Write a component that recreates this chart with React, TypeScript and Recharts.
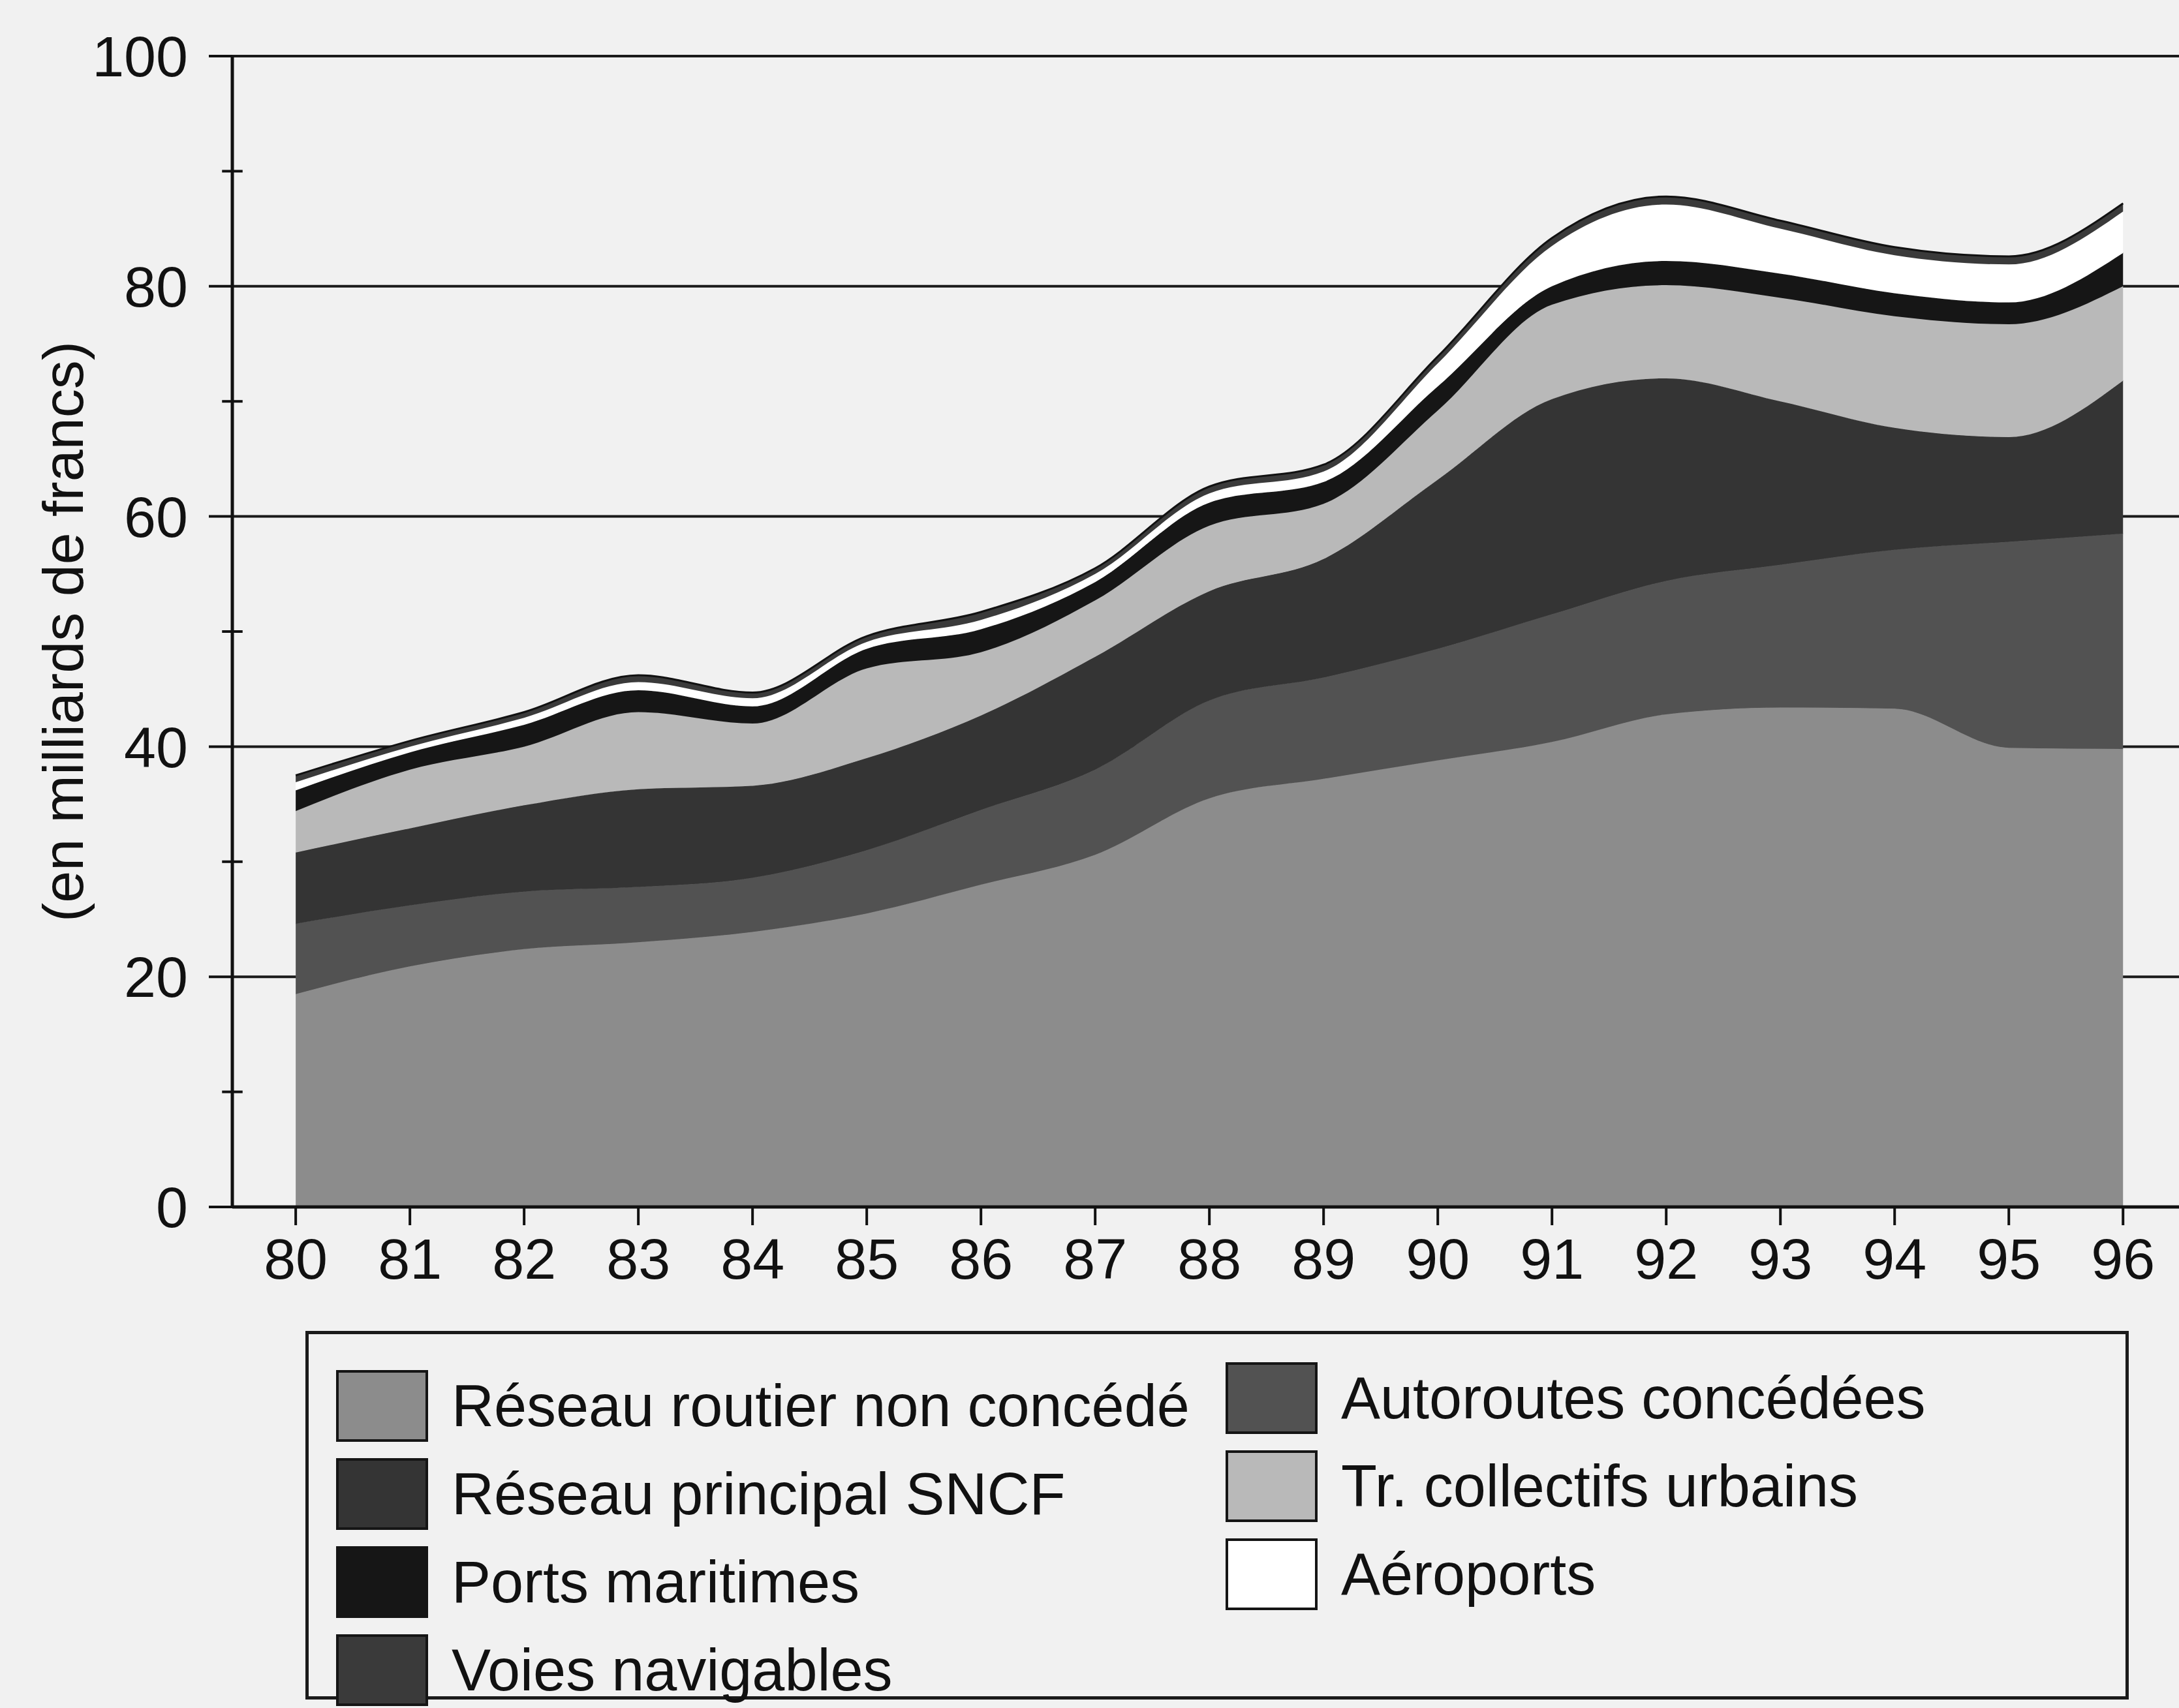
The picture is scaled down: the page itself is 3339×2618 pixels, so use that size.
import { AreaChart, Area, XAxis, YAxis, CartesianGrid, ReferenceLine } from "recharts";

// années 1980 -> 1996 (axe des x)
const years = [80, 81, 82, 83, 84, 85, 86, 87, 88, 89, 90, 91, 92, 93, 94, 95, 96];
const yTicks = [0, 20, 40, 60, 80, 100];
const minorTicks = [10, 30, 50, 70, 90];

// en milliards de francs (couches empilées, du bas vers le haut)
const reseauRoutier = [18.5, 20.9, 22.4, 23.0, 23.9, 25.5, 28.0, 30.6, 35.5, 37.2, 38.8, 40.4, 42.8, 43.4, 43.3, 39.9, 39.8];
const autoroutes = [6.1, 5.3, 5.0, 4.8, 4.7, 5.5, 6.5, 7.4, 8.5, 8.8, 9.7, 11.1, 11.6, 12.4, 13.8, 17.9, 18.7];
const sncf = [6.2, 6.7, 7.5, 8.5, 8.0, 8.0, 8.2, 9.8, 9.5, 10.3, 14.7, 18.7, 17.6, 14.2, 10.6, 9.1, 13.3];
const tcu = [3.6, 5.1, 5.1, 6.7, 5.4, 7.8, 5.5, 4.9, 5.7, 4.8, 6.0, 8.2, 8.1, 9.0, 9.7, 9.8, 8.2];
const ports = [1.8, 1.5, 1.9, 1.9, 1.5, 1.7, 2.0, 1.6, 2.0, 1.9, 2.1, 1.6, 2.1, 2.1, 2.0, 1.9, 2.9];
const aeroports = [0.7, 0.5, 0.6, 0.7, 0.7, 0.6, 0.8, 0.7, 0.8, 0.9, 2.0, 3.5, 4.9, 3.9, 3.3, 3.3, 3.6];
const voies = [0.6, 0.5, 0.5, 0.6, 0.5, 0.5, 0.7, 0.5, 0.6, 0.6, 0.6, 0.7, 0.7, 0.7, 0.7, 0.7, 0.7];

const data = years.map((year, i) => ({
  year,
  routier: reseauRoutier[i],
  autoroutes: autoroutes[i],
  sncf: sncf[i],
  tcu: tcu[i],
  ports: ports[i],
  aeroports: aeroports[i],
  voies: voies[i],
}));

// ordre d'empilement
const series = [
  { key: "routier", name: "Réseau routier non concédé", fill: "#8c8c8c" },
  { key: "autoroutes", name: "Autoroutes concédées", fill: "#525252" },
  { key: "sncf", name: "Réseau principal SNCF", fill: "#343434" },
  { key: "tcu", name: "Tr. collectifs urbains", fill: "#b9b9b9" },
  { key: "ports", name: "Ports maritimes", fill: "#161616" },
  { key: "aeroports", name: "Aéroports", fill: "#ffffff" },
  { key: "voies", name: "Voies navigables", fill: "#3a3a3a" },
];

// ordre de la légende (deux colonnes)
const legendLeft = ["routier", "sncf", "ports", "voies"];
const legendRight = ["autoroutes", "tcu", "aeroports"];

const FONT = "'Liberation Sans', Arial, Helvetica, sans-serif";
const X_MIN = 79.445;
const X_MAX = 96.49;

function YLabel(props: any) {
  const vb = props.viewBox;
  const cx = vb.x + 96;
  const cy = vb.y + vb.height / 2;
  return (
    <text
      x={cx}
      y={cy}
      transform={`rotate(-90, ${cx}, ${cy})`}
      textAnchor="middle"
      dominantBaseline="central"
      fontSize={88}
      fill="#111"
      fontFamily={FONT}
    >
      (en milliards de francs)
    </text>
  );
}

function LegendItem({ s, left, top }: { s: any; left: number; top: number }) {
  return (
    <div style={{ position: "absolute", left, top, display: "flex", alignItems: "center" }}>
      <div
        style={{
          width: 133,
          height: 102,
          background: s.fill,
          border: "4px solid #151515",
        }}
      />
      <span style={{ marginLeft: 36, fontSize: 90, color: "#111", fontFamily: FONT, whiteSpace: "nowrap" }}>
        {s.name}
      </span>
    </div>
  );
}

export default function App() {
  const find = (k: string) => series.find((s) => s.key === k)!;
  return (
    <div
      style={{
        position: "absolute",
        left: 0,
        top: 0,
        width: 3339,
        height: 2618,
        background: "#f1f1f1",
        overflow: "hidden",
      }}
    >
      <AreaChart
        width={3339}
        height={2000}
        data={data}
        margin={{ top: 86, right: 0, bottom: 0, left: 0 }}
        style={{ fontFamily: FONT }}
      >
        <CartesianGrid vertical={false} stroke="#1a1a1a" strokeWidth={4} />
        <XAxis
          dataKey="year"
          type="number"
          domain={[X_MIN, X_MAX]}
          ticks={years}
          allowDataOverflow
          height={150}
          tickSize={28}
          tickMargin={20}
          axisLine={{ stroke: "#111", strokeWidth: 5 }}
          tickLine={{ stroke: "#111", strokeWidth: 4 }}
          tick={{ fontSize: 88, fill: "#111", fontFamily: FONT }}
        />
        <YAxis
          domain={[0, 100]}
          ticks={yTicks}
          width={356}
          tickSize={36}
          tickMargin={32}
          axisLine={{ stroke: "#111", strokeWidth: 5 }}
          tickLine={{ stroke: "#111", strokeWidth: 4 }}
          tick={{ fontSize: 88, fill: "#111", fontFamily: FONT }}
          label={<YLabel />}
        />
        {series.map((s) => (
          <Area
            key={s.key}
            dataKey={s.key}
            name={s.name}
            stackId="1"
            type="monotone"
            fill={s.fill}
            fillOpacity={1}
            stroke={s.key === "voies" ? "#111" : s.fill}
            strokeWidth={s.key === "voies" ? 3 : 1}
            isAnimationActive={false}
          />
        ))}
        {minorTicks.map((v) => (
          <ReferenceLine
            key={v}
            segment={[
              { x: X_MIN - 0.09, y: v },
              { x: X_MIN + 0.09, y: v },
            ]}
            stroke="#111"
            strokeWidth={4}
            ifOverflow="visible"
          />
        ))}
      </AreaChart>

      {/* Légende */}
      <div
        style={{
          position: "absolute",
          left: 468,
          top: 2040,
          width: 2794,
          height: 565,
          border: "5px solid #1a1a1a",
          boxSizing: "border-box",
        }}
      >
        {legendLeft.map((k, i) => (
          <LegendItem key={k} s={find(k)} left={42} top={55 + i * 135} />
        ))}
        {legendRight.map((k, i) => (
          <LegendItem key={k} s={find(k)} left={1405} top={43 + i * 135} />
        ))}
      </div>
    </div>
  );
}
